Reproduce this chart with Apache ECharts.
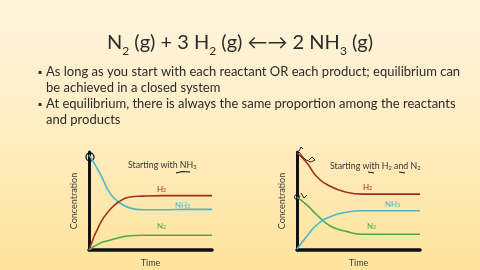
<!DOCTYPE html>
<html><head><meta charset="utf-8">
<script src="https://cdn.jsdelivr.net/npm/echarts@6/dist/echarts.min.js"></script>
<style>
html,body{margin:0;padding:0;}
body{width:480px;height:270px;background:linear-gradient(#fff4dc 0%,#ffeec8 40%,#ffe49c 100%);overflow:hidden;}
#c{width:480px;height:270px;}
</style></head><body><div id="c"></div>
<script>
// Time axis (arbitrary units) and concentrations (arbitrary units, 0-100)
const timeA = [0, 0.9, 1.7, 2.4, 3.3, 4.4, 6, 8, 10];
const nh3A  = [97, 78, 58, 49, 43, 41, 41, 41.5, 41.5];
const h2A   = [0, 27, 41, 49, 54, 55, 55.5, 55.5, 55.5];
const n2A   = [0, 7, 10, 12.5, 14.5, 15, 15, 15, 15];

const timeB = [0, 0.8, 1.6, 2.7, 4.0, 5.4, 7, 8.5, 10];
const h2B   = [99, 89, 75, 65, 59, 57, 57, 57, 57];
const n2B   = [54, 46, 36, 24.5, 19, 16, 16, 16, 16];
const nh3B  = [1, 14, 25.5, 34, 38.5, 40, 40, 40, 40];

const colors = {h2:'#a0301e', nh3:'#4eb4cc', n2:'#4ea84a'};
const FONT = 'Lato';
const INK = '#2b2b2b';

function pairs(t, v){ return t.map((x,i)=>[x, v[i]]); }
function line(name, t, v, color, gi){
  return {type:'line', name, xAxisIndex:gi, yAxisIndex:gi, data:pairs(t,v), smooth:0.5,
    symbol:'none', lineStyle:{color, width:1.6}, silent:true};
}
function axisX(gi){
  return {gridIndex:gi, type:'value', min:0, max:10, name:'Time', nameLocation:'middle', nameGap:9,
    nameTextStyle:{fontFamily:FONT, fontSize:9, color:'#404040'},
    axisLine:{onZero:false, lineStyle:{color:'#111', width:3.5}}, axisTick:{show:false}, axisLabel:{show:false}, splitLine:{show:false}};
}
function axisY(gi){
  return {gridIndex:gi, type:'value', min:0, max:100, name:'Concentration', nameLocation:'middle', nameGap:10,
    nameTextStyle:{fontFamily:FONT, fontSize:9, color:'#404040'},
    axisLine:{show:true, onZero:false, lineStyle:{color:'#111', width:3}}, axisTick:{show:false}, axisLabel:{show:false}, splitLine:{show:false}};
}
function lab(x, y, base, color, size){
  size = size || 8;
  return {type:'text', x, y, style:{text:base, fontFamily:FONT, fontSize:size, fill:color,
    rich:{s:{fontFamily:FONT, fontSize:size*0.65, fill:color, verticalAlign:'bottom'}}}};
}
const chart = echarts.init(document.getElementById('c'), null, {renderer:'canvas'});
chart.setOption({
  animation:false,
  grid:[{left:89, top:152, width:123, height:98},{left:297, top:152, width:123, height:98}],
  xAxis:[axisX(0), axisX(1)],
  yAxis:[axisY(0), axisY(1)],
  series:[
    line('NH3', timeA, nh3A, colors.nh3, 0),
    line('H2', timeA, h2A, colors.h2, 0),
    line('N2', timeA, n2A, colors.n2, 0),
    line('H2', timeB, h2B, colors.h2, 1),
    line('N2', timeB, n2B, colors.n2, 1),
    line('NH3', timeB, nh3B, colors.nh3, 1)
  ],
  graphic:[
    {type:'text', x:240, y:29, style:{
      text:'N{s|2} (g) + 3 H{s|2} (g) ←→ 2 NH{s|3} (g)', fontFamily:FONT, fontSize:20, fill:INK, align:'center',
      rich:{s:{fontFamily:FONT, fontSize:12, fill:INK, verticalAlign:'bottom', lineHeight:28}}}},
    {type:'text', x:38, y:64, style:{text:'▪', fontFamily:'DejaVu Sans', fontSize:6, fill:INK, y:5}},
    {type:'text', x:46, y:64, style:{text:'As long as you start with each reactant OR each product; equilibrium can\nbe achieved in a closed system', fontFamily:FONT, fontSize:13, lineHeight:16, fill:INK}},
    {type:'text', x:38, y:96, style:{text:'▪', fontFamily:'DejaVu Sans', fontSize:6, fill:INK, y:5}},
    {type:'text', x:46, y:96, style:{text:'At equilibrium, there is always the same proportion among the reactants\nand products', fontFamily:FONT, fontSize:13, lineHeight:16, fill:INK}},
    lab(128, 161, 'Starting with NH{s|3}', '#333', 8.8),
    lab(330, 162, 'Starting with H{s|2} and N{s|2}', '#333', 8.8),
    lab(157, 185, 'H{s|2}', colors.h2),
    lab(175, 201, 'NH{s|3}', colors.nh3),
    lab(157, 222, 'N{s|2}', colors.n2),
    lab(363, 183, 'H{s|2}', colors.h2),
    lab(385, 200, 'NH{s|3}', colors.nh3),
    lab(367, 222, 'N{s|2}', colors.n2),
    // hand-drawn annotations
    {type:'circle', shape:{cx:90, cy:157, r:4}, style:{fill:'none', stroke:'#111', lineWidth:1.3}},
    {type:'polyline', shape:{points:[[176,173],[182,171.5],[190,172]]}, style:{stroke:'#111', lineWidth:1.1, fill:'none'}},
    {type:'polyline', shape:{points:[[368,172],[374,173]]}, style:{stroke:'#111', lineWidth:1}},
    {type:'polyline', shape:{points:[[399,172],[405,173]]}, style:{stroke:'#111', lineWidth:1}},
    {type:'polyline', shape:{points:[[299,152],[303,157],[306,160],[311,162],[315,160],[312,157],[309,160]]}, style:{stroke:'#222', lineWidth:1, fill:'none'}},
    {type:'circle', shape:{cx:297, cy:197, r:2.5}, style:{fill:'none', stroke:'#222', lineWidth:1}},
    {type:'polyline', shape:{points:[[301,193],[304,198],[307,195]]}, style:{stroke:'#222', lineWidth:1, fill:'none'}},
    {type:'polyline', shape:{points:[[299,151],[301,147],[303,149]]}, style:{stroke:'#222', lineWidth:1, fill:'none'}}
  ]
});
</script></body></html>
